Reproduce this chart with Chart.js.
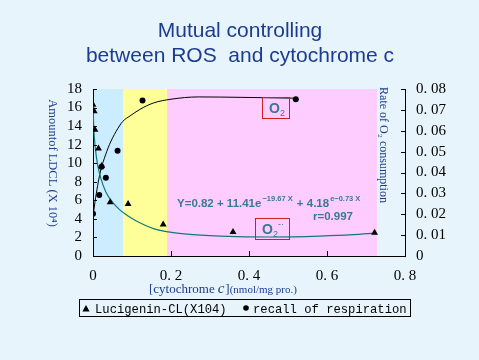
<!DOCTYPE html>
<html>
<head>
<meta charset="utf-8">
<script src="https://cdn.jsdelivr.net/npm/chart.js@4"></script>
<style>
  html, body { margin: 0; padding: 0; background: #e8f4fc; }
  #wrap { width: 479px; height: 360px; }
</style>
</head>
<body>
<div id="wrap"><canvas id="chart" width="479" height="360"></canvas></div>
<script>
// Lucigenin-CL (x10^4), left axis
const lucigeninX = [0.0, 0.003, 0.005, 0.014, 0.022, 0.044, 0.09, 0.18, 0.359, 0.722];
const lucigeninY = [16.3, 15.6, 13.6, 11.6, 9.7, 5.8, 5.6, 3.4, 2.6, 2.5];

// recall of respiration, right axis
const respX = [0.0, 0.016, 0.022, 0.033, 0.063, 0.127, 0.52];
const respY = [0.0202, 0.0292, 0.0428, 0.0375, 0.0504, 0.0745, 0.0751];

// fitted curve for Lucigenin-CL
const fitLucX = [0, 0.002, 0.006, 0.012, 0.02, 0.033, 0.05, 0.068, 0.09, 0.11, 0.155, 0.193, 0.24, 0.326, 0.454, 0.582, 0.667, 0.723];
const fitLucY = [16.4, 13.8, 11.6, 9.8, 8.4, 6.9, 5.8, 5.0, 4.3, 3.8, 2.95, 2.6, 2.35, 2.15, 2.05, 2.15, 2.3, 2.47];

// fitted curve for respiration
const fitRespX = [0, 0.005, 0.012, 0.02, 0.029, 0.042, 0.059, 0.076, 0.095, 0.12, 0.155, 0.2, 0.27, 0.38, 0.52];
const fitRespY = [0.0187, 0.0258, 0.0338, 0.0413, 0.0467, 0.0533, 0.0596, 0.0644, 0.0671, 0.0702, 0.0733, 0.0751, 0.0762, 0.076, 0.0756];

// shaded regions along x
const bandEdges = [0, 0.077, 0.19, 0.728];

const titleLines = ['Mutual controlling', 'between ROS  and cytochrome c'];
const leftTitle = 'Amountof LDCL (X 10\u2074)';
const rightTitle = 'Rate of O\u2082 consumption';
const legendLabels = ['Lucigenin-CL(X104)', 'recall of respiration'];

const bandColors = ['#ccecff', '#ffff99', '#ffccff'];
const navy = '#1c3c8f';
const eqColor = '#3b7896';
const serif = '"Liberation Serif", "Times New Roman", serif';
const sans = '"Liberation Sans", Arial, sans-serif';
const mono = '"Liberation Mono", "Courier New", monospace';

function pts(xs, ys) {
  return xs.map((x, i) => ({ x: x, y: ys[i] }));
}

function fmt(v, digits) {
  if (Math.abs(v) < 1e-9) return '0';
  return v.toFixed(digits).replace('.', '. ');
}

function triangle(ctx, cx, cy, r) {
  ctx.beginPath();
  ctx.moveTo(cx, cy - r);
  ctx.lineTo(cx + r * 0.9, cy + r * 0.6);
  ctx.lineTo(cx - r * 0.9, cy + r * 0.6);
  ctx.closePath();
  ctx.fill();
}

const decorPlugin = {
  id: 'decor',
  beforeDraw(chart) {
    const { ctx, chartArea: a, scales } = chart;
    ctx.save();
    for (let i = 0; i < bandColors.length; i++) {
      const x0 = scales.x.getPixelForValue(bandEdges[i]);
      const x1 = scales.x.getPixelForValue(bandEdges[i + 1]);
      ctx.fillStyle = bandColors[i];
      ctx.fillRect(x0, a.top, x1 - x0, a.bottom - a.top);
    }
    ctx.restore();
  },
  afterDraw(chart) {
    const { ctx, chartArea: a, scales } = chart;
    ctx.save();

    // inward tick marks
    ctx.strokeStyle = '#000';
    ctx.lineWidth = 1;
    ctx.beginPath();
    scales.y.ticks.forEach(t => {
      const y = Math.round(scales.y.getPixelForValue(t.value)) + 0.5;
      ctx.moveTo(a.left, y); ctx.lineTo(a.left + 4, y);
    });
    scales.y1.ticks.forEach(t => {
      const y = Math.round(scales.y1.getPixelForValue(t.value)) + 0.5;
      ctx.moveTo(a.right, y); ctx.lineTo(a.right - 4, y);
    });
    scales.x.ticks.forEach(t => {
      if (t.value <= 0 || t.value >= 0.79) return;
      const x = Math.round(scales.x.getPixelForValue(t.value)) + 0.5;
      ctx.moveTo(x, a.bottom); ctx.lineTo(x, a.bottom - 5);
    });
    ctx.stroke();

    // title
    ctx.fillStyle = navy;
    ctx.font = '21px ' + sans;
    ctx.textAlign = 'center';
    ctx.textBaseline = 'alphabetic';
    ctx.fillText(titleLines[0], 240, 37);
    ctx.fillText(titleLines[1], 240, 62);

    // axis titles (rotated clockwise)
    ctx.font = '12.5px ' + serif;
    ctx.textBaseline = 'middle';
    ctx.save();
    ctx.translate(52, 163);
    ctx.rotate(Math.PI / 2);
    ctx.fillText(leftTitle, 0, 0);
    ctx.restore();
    ctx.font = '12px ' + serif;
    ctx.save();
    ctx.translate(383, 145);
    ctx.rotate(Math.PI / 2);
    ctx.fillText(rightTitle, 0, 0);
    ctx.restore();

    // x axis title
    ctx.textAlign = 'left';
    ctx.textBaseline = 'alphabetic';
    let x = 149;
    const by = 293;
    ctx.font = '13px ' + serif;
    ctx.fillText('[cytochrome', x, by);
    x += ctx.measureText('[cytochrome').width + 3;
    ctx.font = 'italic 15px ' + serif;
    ctx.fillText('c', x, by);
    x += ctx.measureText('c').width + 1;
    ctx.font = '13px ' + serif;
    ctx.fillText(']', x, by);
    x += ctx.measureText(']').width;
    ctx.font = '11px ' + serif;
    ctx.fillText('(nmol/mg pro.)', x, by);

    // equation
    ctx.fillStyle = eqColor;
    let ex = 177;
    const ey = 207;
    const parts = [
      ['bold 11.5px ', 'Y=0.82 + 11.41e', 0],
      ['bold 7.5px ', '\u221219.67 X', -6],
      ['bold 11.5px ', ' + 4.18', 0],
      ['bold 7.5px ', 'e\u22120.73 X', -6]
    ];
    parts.forEach(p => {
      ctx.font = p[0] + sans;
      ctx.fillText(p[1], ex, ey + p[2]);
      ex += ctx.measureText(p[1]).width + 1;
    });
    ctx.font = 'bold 11.5px ' + sans;
    ctx.textAlign = 'right';
    ctx.fillText('r=0.997', 353, 220);

    // O2 labels with red boxes
    ctx.strokeStyle = '#cc2020';
    ctx.lineWidth = 1;
    ctx.strokeRect(262.5, 97.5, 27, 21);
    ctx.strokeRect(255.5, 218.5, 34, 21);
    ctx.textAlign = 'left';
    ctx.fillStyle = eqColor;
    ctx.font = 'bold 14px ' + sans;
    ctx.fillText('O', 269, 113);
    let ow = ctx.measureText('O').width;
    ctx.font = '9px ' + sans;
    ctx.fillText('2', 269 + ow, 116);
    ctx.font = 'bold 14px ' + sans;
    ctx.fillText('O', 262, 234);
    ctx.font = '9px ' + sans;
    ctx.fillText('2', 262 + ow, 237);
    ctx.fillText('-\u00b7', 262 + ow + 5, 227);

    // legend
    ctx.strokeStyle = '#000';
    ctx.strokeRect(79.5, 299.5, 331, 17);
    ctx.fillStyle = '#000';
    triangle(ctx, 86, 309, 4);
    ctx.beginPath();
    ctx.arc(246, 308, 2.8, 0, Math.PI * 2);
    ctx.fill();
    ctx.font = '12.2px ' + mono;
    ctx.fillText(legendLabels[0], 95, 312.5);
    ctx.fillText(legendLabels[1], 253, 312.5);

    ctx.restore();
  }
};

const tickFont = { family: serif, size: 15 };

new Chart(document.getElementById('chart'), {
  type: 'scatter',
  data: {
    datasets: [
      {
        label: legendLabels[0],
        data: pts(lucigeninX, lucigeninY),
        yAxisID: 'y',
        pointStyle: 'triangle',
        pointRadius: 4,
        backgroundColor: '#000',
        borderColor: '#000',
        borderWidth: 0,
        showLine: false
      },
      {
        label: legendLabels[1],
        data: pts(respX, respY),
        yAxisID: 'y1',
        pointStyle: 'circle',
        pointRadius: 3,
        backgroundColor: '#000',
        borderColor: '#000',
        borderWidth: 0,
        showLine: false
      },
      {
        label: 'fit LCL',
        data: pts(fitLucX, fitLucY),
        yAxisID: 'y',
        showLine: true,
        pointRadius: 0,
        borderColor: '#157878',
        borderWidth: 1.2,
        cubicInterpolationMode: 'monotone'
      },
      {
        label: 'fit resp',
        data: pts(fitRespX, fitRespY),
        yAxisID: 'y1',
        showLine: true,
        pointRadius: 0,
        borderColor: '#000',
        borderWidth: 1,
        cubicInterpolationMode: 'monotone'
      }
    ]
  },
  options: {
    responsive: false,
    animation: false,
    devicePixelRatio: 1,
    layout: { padding: { top: 89, left: 0, right: 0, bottom: 0 } },
    plugins: {
      legend: { display: false },
      title: { display: false },
      tooltip: { enabled: false }
    },
    scales: {
      x: {
        type: 'linear',
        min: 0,
        max: 0.8,
        grid: { display: false, drawTicks: false },
        border: { display: true, color: '#000', width: 1 },
        ticks: {
          stepSize: 0.2,
          color: '#000',
          font: tickFont,
          padding: 11,
          maxRotation: 0,
          autoSkip: false,
          callback: v => fmt(v, 1)
        },
        afterFit: s => { s.height = 104; }
      },
      y: {
        position: 'left',
        min: 0,
        max: 18,
        grid: { display: false, drawTicks: false },
        border: { display: true, color: '#000', width: 1 },
        ticks: {
          stepSize: 2,
          color: '#000',
          font: tickFont,
          padding: 11,
          autoSkip: false,
          callback: v => String(v)
        },
        afterFit: s => { s.width = 93; }
      },
      y1: {
        position: 'right',
        min: 0,
        max: 0.08,
        grid: { display: false, drawTicks: false },
        border: { display: true, color: '#000', width: 1 },
        ticks: {
          stepSize: 0.01,
          color: '#000',
          font: tickFont,
          padding: 11,
          autoSkip: false,
          callback: v => fmt(v, 2)
        },
        afterFit: s => { s.width = 74; }
      }
    }
  },
  plugins: [decorPlugin]
});
</script>
</body>
</html>
